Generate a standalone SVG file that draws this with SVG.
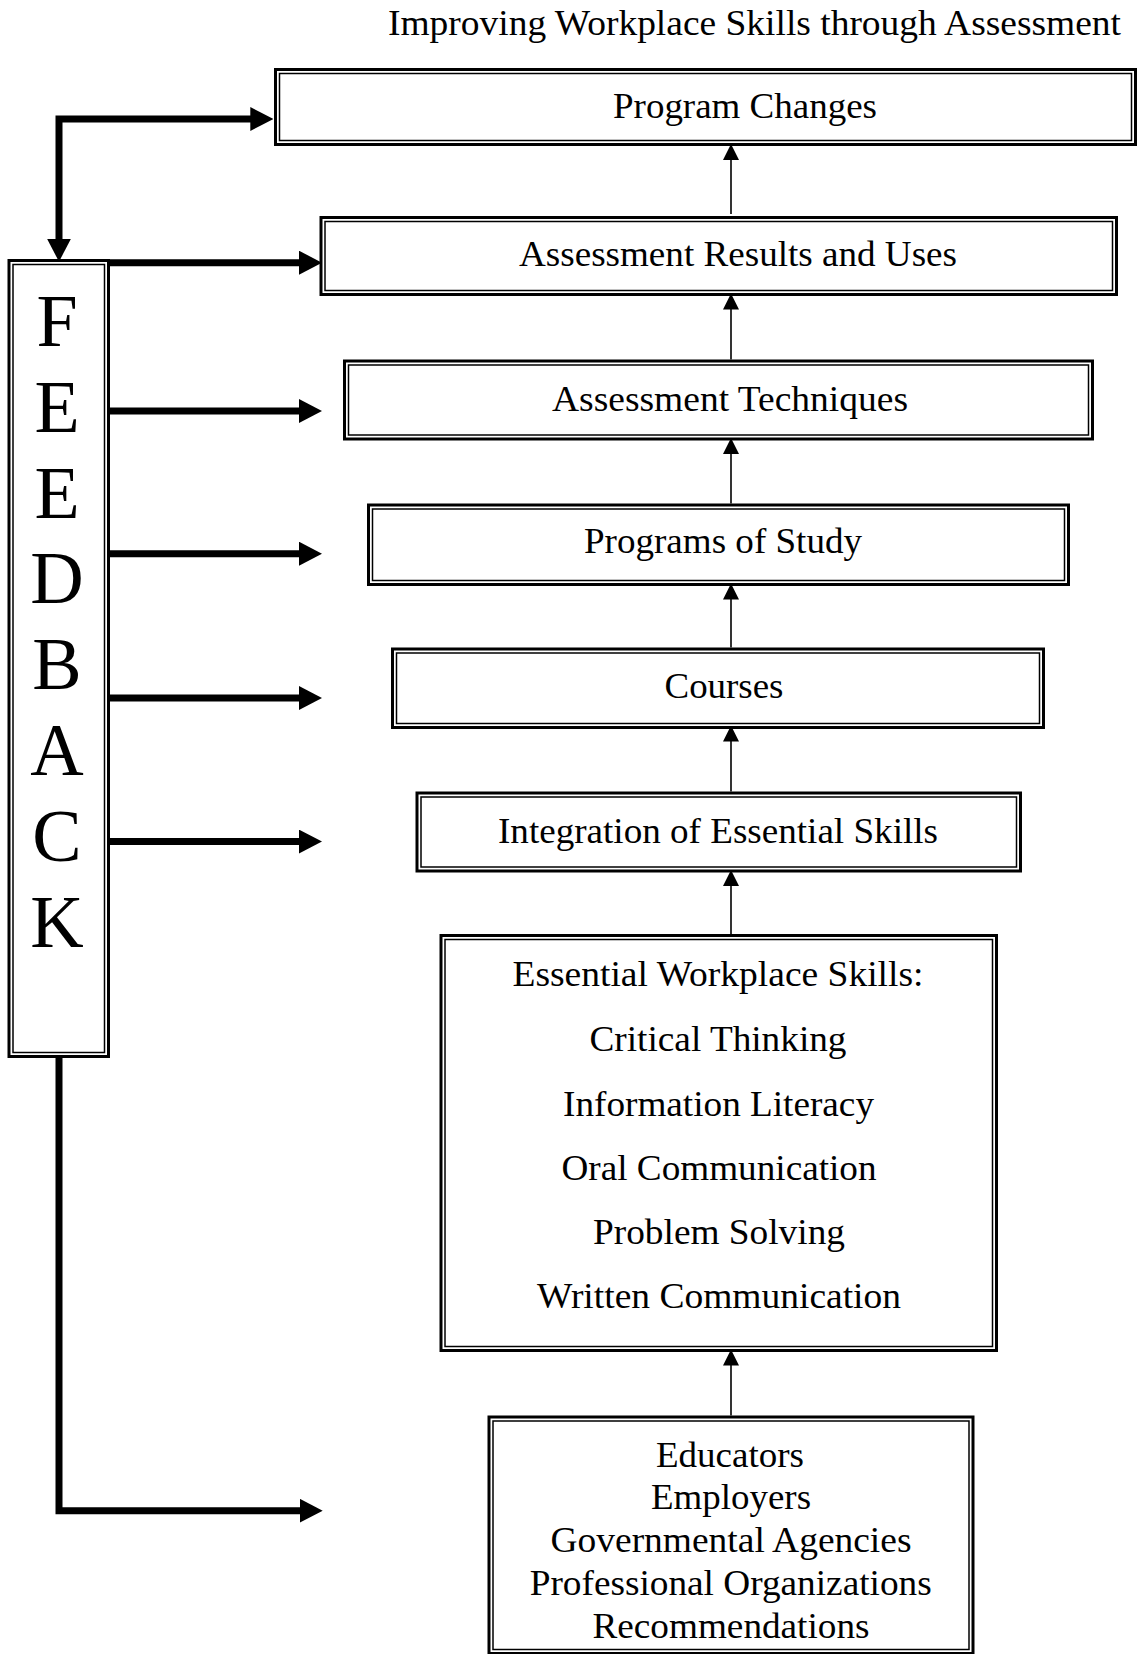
<svg xmlns="http://www.w3.org/2000/svg" width="1138" height="1654" viewBox="0 0 1138 1654">
  <style>
    .outer { fill: #fff; stroke: #000; stroke-width: 3; }
    .inner { fill: none; stroke: #000; stroke-width: 1.5; }
    .lbl { font-family: "Liberation Serif", "Times New Roman", serif; font-size: 35px; fill: #000; text-anchor: middle; }
    .big { font-family: "Liberation Serif", "Times New Roman", serif; font-size: 74px; fill: #000; text-anchor: middle; }
    .fb { fill: none; stroke: #000; stroke-width: 7; stroke-linejoin: miter; }
    .up { fill: none; stroke: #000; stroke-width: 1.6; }
  </style>
  <defs>
    <marker id="thick" viewBox="0 0 23 24" refX="3" refY="12" markerWidth="23" markerHeight="24" markerUnits="userSpaceOnUse" orient="auto-start-reverse">
      <path d="M0,0 L23,12 L0,24 z" fill="#000"/>
    </marker>
    <marker id="thin" viewBox="0 0 16 16" refX="4" refY="8" markerWidth="16" markerHeight="16" markerUnits="userSpaceOnUse" orient="auto">
      <path d="M0,0 L16,8 L0,16 z" fill="#000"/>
    </marker>
  </defs>

  <rect width="1138" height="1654" fill="#fff"/>

  <text id="title" class="lbl" x="1121" y="35" style="text-anchor:end" textLength="733" lengthAdjust="spacingAndGlyphs">Improving Workplace Skills through Assessment</text>

  <g id="program-changes">
    <rect class="outer" x="275.5" y="69.5" width="860" height="75"/>
    <rect class="inner" x="279.5" y="73.5" width="852" height="67"/>
    <text class="lbl" x="745" y="117.7" textLength="264" lengthAdjust="spacingAndGlyphs">Program Changes</text>
  </g>

  <g id="assessment-results">
    <rect class="outer" x="321" y="217.5" width="795.5" height="77"/>
    <rect class="inner" x="325" y="221.5" width="787.5" height="69"/>
    <text class="lbl" x="738" y="266" textLength="438" lengthAdjust="spacingAndGlyphs">Assessment Results and Uses</text>
  </g>

  <g id="assessment-techniques">
    <rect class="outer" x="344.5" y="361" width="748" height="78"/>
    <rect class="inner" x="348.5" y="365" width="740" height="70"/>
    <text class="lbl" x="730" y="410.7" textLength="356" lengthAdjust="spacingAndGlyphs">Assessment Techniques</text>
  </g>

  <g id="programs-of-study">
    <rect class="outer" x="368.5" y="505" width="700" height="79.5"/>
    <rect class="inner" x="372.5" y="509" width="692" height="71.5"/>
    <text class="lbl" x="723" y="553.3" textLength="278" lengthAdjust="spacingAndGlyphs">Programs of Study</text>
  </g>

  <g id="courses">
    <rect class="outer" x="392.5" y="649" width="651" height="78.5"/>
    <rect class="inner" x="396.5" y="653" width="643" height="70.5"/>
    <text class="lbl" x="724" y="698" textLength="119" lengthAdjust="spacingAndGlyphs">Courses</text>
  </g>

  <g id="integration">
    <rect class="outer" x="417" y="793" width="603.5" height="78"/>
    <rect class="inner" x="421" y="797" width="595.5" height="70"/>
    <text class="lbl" x="718" y="842.7" textLength="440" lengthAdjust="spacingAndGlyphs">Integration of Essential Skills</text>
  </g>

  <g id="essential-skills">
    <rect class="outer" x="441" y="935.5" width="555.5" height="415"/>
    <rect class="inner" x="445" y="939.5" width="547.5" height="407"/>
    <text class="lbl" x="718" y="986" textLength="411" lengthAdjust="spacingAndGlyphs">Essential Workplace Skills:</text>
    <text class="lbl" x="718" y="1051" textLength="257" lengthAdjust="spacingAndGlyphs">Critical Thinking</text>
    <text class="lbl" x="718.5" y="1115.5" textLength="311" lengthAdjust="spacingAndGlyphs">Information Literacy</text>
    <text class="lbl" x="719" y="1179.5" textLength="315" lengthAdjust="spacingAndGlyphs">Oral Communication</text>
    <text class="lbl" x="719" y="1244" textLength="252" lengthAdjust="spacingAndGlyphs">Problem Solving</text>
    <text class="lbl" x="719" y="1308" textLength="364" lengthAdjust="spacingAndGlyphs">Written Communication</text>
  </g>

  <g id="sources">
    <rect class="outer" x="489" y="1417" width="484" height="236.5"/>
    <rect class="inner" x="493" y="1421" width="476" height="228.5"/>
    <text class="lbl" x="730" y="1466.7" textLength="148" lengthAdjust="spacingAndGlyphs">Educators</text>
    <text class="lbl" x="731" y="1509.3" textLength="160" lengthAdjust="spacingAndGlyphs">Employers</text>
    <text class="lbl" x="731" y="1552.3" textLength="361" lengthAdjust="spacingAndGlyphs">Governmental Agencies</text>
    <text class="lbl" x="730.7" y="1595" textLength="402" lengthAdjust="spacingAndGlyphs">Professional Organizations</text>
    <text class="lbl" x="731" y="1638.3" textLength="277" lengthAdjust="spacingAndGlyphs">Recommendations</text>
  </g>

  <g id="feedback">
    <rect class="outer" x="9" y="260.5" width="99.5" height="796"/>
    <rect class="inner" x="13" y="264.5" width="91.5" height="788"/>
    <text class="big" x="57" y="346">F</text>
    <text class="big" x="57" y="431.8">E</text>
    <text class="big" x="57" y="517.6">E</text>
    <text class="big" x="57" y="603.4">D</text>
    <text class="big" x="57" y="689.2">B</text>
    <text class="big" x="57" y="775">A</text>
    <text class="big" x="57" y="860.8">C</text>
    <text class="big" x="57" y="946.6">K</text>
  </g>

  <g id="connectors">
    <!-- feedback loop: up to program changes and down into the feedback column -->
    <path class="fb" d="M59,241.7 V119 H253.3" marker-start="url(#thick)" marker-end="url(#thick)"/>
    <!-- feedback arrows into each stage -->
    <path class="fb" d="M107,262.7 H302" marker-end="url(#thick)"/>
    <path class="fb" d="M107,411 H302" marker-end="url(#thick)"/>
    <path class="fb" d="M107,553.7 H302" marker-end="url(#thick)"/>
    <path class="fb" d="M107,698 H302" marker-end="url(#thick)"/>
    <path class="fb" d="M107,841.6 H302" marker-end="url(#thick)"/>
    <!-- feedback loop back to the sources -->
    <path class="fb" d="M59,1056 V1510.7 H302.7" marker-end="url(#thick)"/>

    <!-- upward flow between stages -->
    <path class="up" d="M731,214 V156" marker-end="url(#thin)"/>
    <path class="up" d="M731,359.5 V305.5" marker-end="url(#thin)"/>
    <path class="up" d="M731,503.5 V450" marker-end="url(#thin)"/>
    <path class="up" d="M731,647.5 V595.5" marker-end="url(#thin)"/>
    <path class="up" d="M731,791.5 V737.5" marker-end="url(#thin)"/>
    <path class="up" d="M731,934 V882" marker-end="url(#thin)"/>
    <path class="up" d="M731,1415.5 V1361.5" marker-end="url(#thin)"/>
  </g>
</svg>
